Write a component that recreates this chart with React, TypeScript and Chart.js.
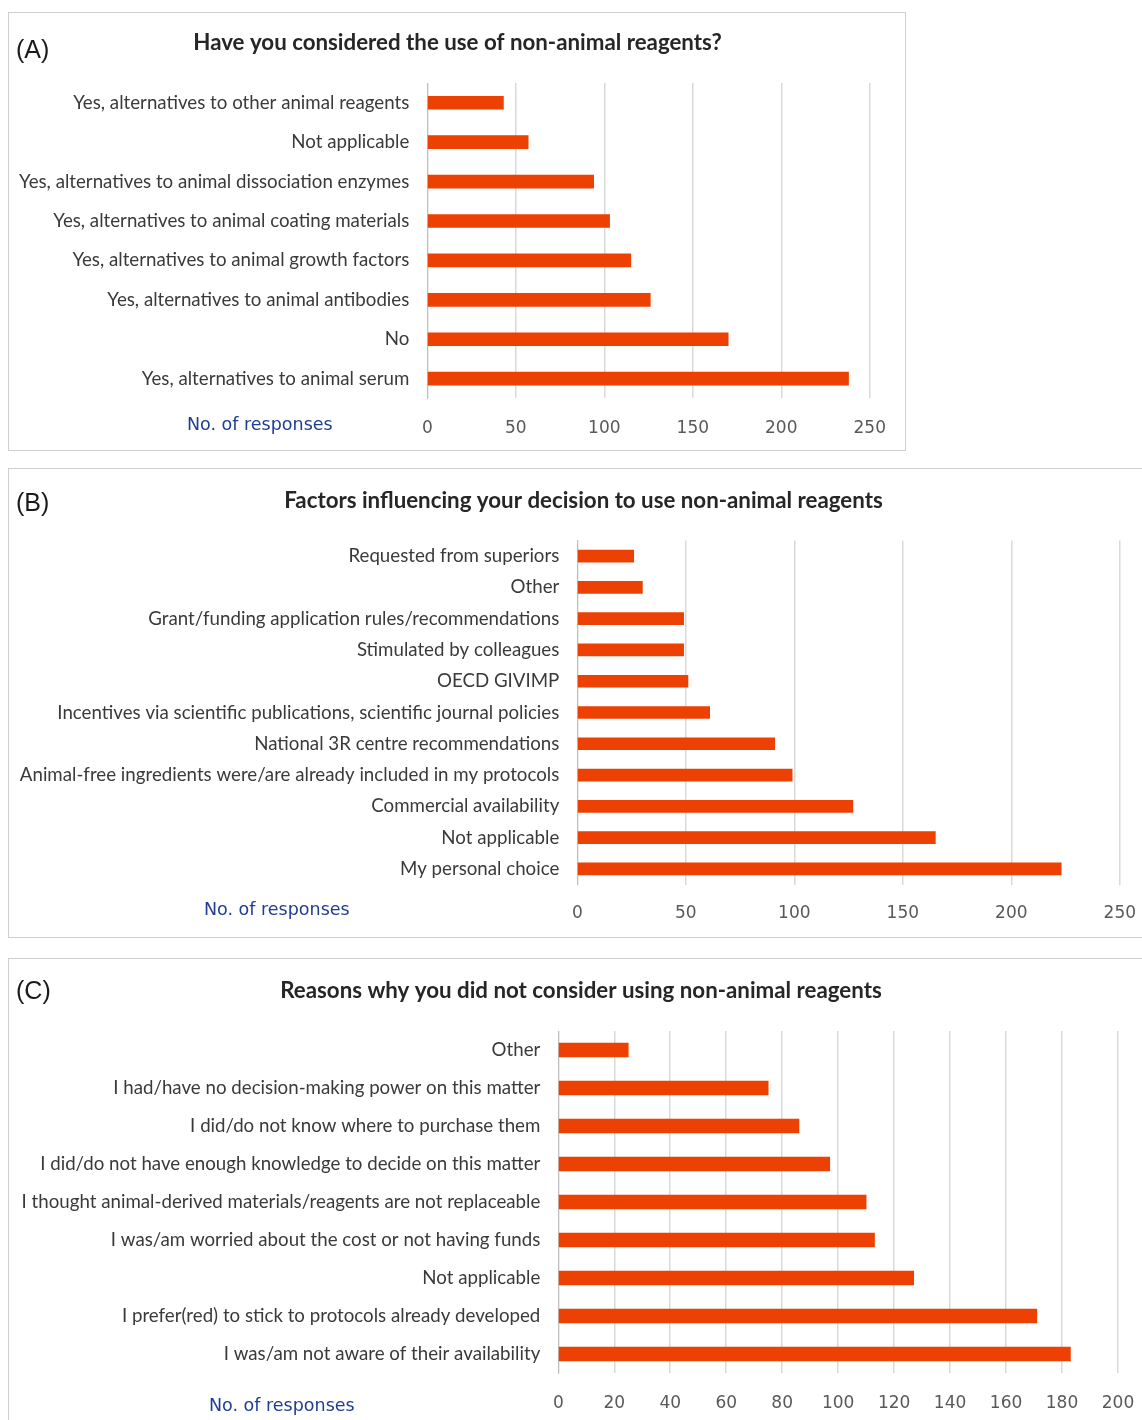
import React, { useEffect, useRef } from "react";
import { Chart, registerables } from "chart.js";

Chart.register(...registerables);

// ---------- Data ----------
const categoriesA = [
  "Yes, alternatives to other animal reagents",
  "Not applicable",
  "Yes, alternatives to animal dissociation enzymes",
  "Yes, alternatives to animal coating materials",
  "Yes, alternatives to animal growth factors",
  "Yes, alternatives to animal antibodies",
  "No",
  "Yes, alternatives to animal serum",
];
const valuesA = [43, 57, 94, 103, 115, 126, 170, 238];

const categoriesB = [
  "Requested from superiors",
  "Other",
  "Grant/funding application rules/recommendations",
  "Stimulated by colleagues",
  "OECD GIVIMP",
  "Incentives via scientific publications, scientific journal policies",
  "National 3R centre recommendations",
  "Animal-free ingredients were/are already included in my protocols",
  "Commercial availability",
  "Not applicable",
  "My personal choice",
];
const valuesB = [26, 30, 49, 49, 51, 61, 91, 99, 127, 165, 223];

const categoriesC = [
  "Other",
  "I had/have no decision-making power on this matter",
  "I did/do not know where to purchase them",
  "I did/do not have enough knowledge to decide on this matter",
  "I thought animal-derived materials/reagents are not replaceable",
  "I was/am worried about the cost or not having funds",
  "Not applicable",
  "I prefer(red) to stick to protocols already developed",
  "I was/am not aware of their availability",
];
const valuesC = [25, 75, 86, 97, 110, 113, 127, 171, 183];

const axisMaxA = 250;
const axisStepA = 50;
const axisMaxB = 250;
const axisStepB = 50;
const axisMaxC = 200;
const axisStepC = 20;

const titleA = "Have you considered the use of non-animal reagents?";
const titleB = "Factors influencing your decision to use non-animal reagents";
const titleC = "Reasons why you did not consider using non-animal reagents";
const axisName = "No. of responses";

const BAR_COLOR = "#ec4102";

// ---------- Text plugin ----------
const panelTextPlugin = {
  id: "panelText",
  afterDraw(chart: any, _args: any, opts: any) {
    const ctx = chart.ctx;
    ctx.save();
    ctx.textBaseline = "middle";
    ctx.textAlign = "left";
    ctx.fillStyle = "#1a1a1a";
    ctx.font = '25px "Liberation Sans", Arial, sans-serif';
    ctx.fillText(opts.letter, opts.letterX, opts.letterY);

    ctx.textAlign = "center";
    ctx.fillStyle = "#262626";
    ctx.font = 'bold 22.3px Lato, "Open Sans", sans-serif';
    ctx.fillText(opts.title, opts.titleX, opts.titleY);

    ctx.textAlign = "left";
    ctx.fillStyle = "#1f3e93";
    ctx.font = '17.5px "DejaVu Sans", Verdana, sans-serif';
    ctx.fillText(opts.name, opts.nameX, opts.nameY);
    ctx.restore();
  },
};

type PanelProps = {
  left: number;
  top: number;
  width: number;
  height: number;
  boxWidth: number;
  boxHeight: number;
  categories: string[];
  values: number[];
  max: number;
  step: number;
  barThickness: number;
  area: { left: number; right: number; top: number; bottom: number };
  letter: string;
  letterPos: [number, number];
  title: string;
  titlePos: [number, number];
  namePos: [number, number];
  yPad: number;
  xPad: number;
};

function Panel(p: PanelProps) {
  const ref = useRef<HTMLCanvasElement | null>(null);
  useEffect(() => {
    if (!ref.current) return;
    const chart = new Chart(ref.current, {
      type: "bar",
      data: {
        labels: p.categories,
        datasets: [
          {
            data: p.values,
            backgroundColor: BAR_COLOR,
            borderWidth: 0,
            barThickness: p.barThickness,
          },
        ],
      },
      options: {
        indexAxis: "y",
        animation: false,
        responsive: true,
        maintainAspectRatio: false,
        layout: {
          padding: { left: 0, top: p.area.top, right: p.width - p.area.right, bottom: 0 },
        },
        plugins: {
          legend: { display: false },
          tooltip: { enabled: false },
          title: { display: false },
          panelText: {
            letter: p.letter,
            letterX: p.letterPos[0],
            letterY: p.letterPos[1],
            title: p.title,
            titleX: p.titlePos[0],
            titleY: p.titlePos[1],
            name: axisName,
            nameX: p.namePos[0],
            nameY: p.namePos[1],
          },
        } as any,
        scales: {
          x: {
            type: "linear",
            min: 0,
            max: p.max,
            afterFit: (s: any) => {
              s.height = p.height - p.area.bottom;
            },
            ticks: {
              stepSize: p.step,
              color: "#595959",
              padding: p.xPad,
              font: { family: '"DejaVu Sans", Verdana, sans-serif', size: 17 },
            },
            grid: { color: "#d9d9d9", lineWidth: 1.5, drawTicks: false },
            border: { display: false },
          },
          y: {
            afterFit: (s: any) => {
              s.width = p.area.left;
            },
            ticks: {
              color: "#3a3a3a",
              padding: p.yPad,
              autoSkip: false,
              font: { family: 'Lato, "Open Sans", sans-serif', size: 18.7 },
            },
            grid: { display: false, drawTicks: false },
            border: { display: true, color: "#bfbfbf", width: 1 },
          },
        },
      },
      plugins: [panelTextPlugin],
    });
    return () => chart.destroy();
  }, []);

  return (
    <>
      <div
        style={{
          position: "absolute",
          left: p.left,
          top: p.top,
          width: p.boxWidth,
          height: p.boxHeight,
          boxSizing: "border-box",
          border: "1.5px solid #cfcfcf",
          background: "#fff",
        }}
      />
      <div
        style={{
          position: "absolute",
          left: p.left,
          top: p.top,
          width: p.width,
          height: p.height,
        }}
      >
        <canvas ref={ref} />
      </div>
    </>
  );
}

export default function App() {
  return (
    <div
      style={{
        position: "absolute",
        left: 0,
        top: 0,
        width: 1142,
        height: 1420,
        overflow: "hidden",
        background: "#fff",
      }}
    >
      <Panel
        left={8}
        top={12}
        width={898}
        height={439}
        boxWidth={898}
        boxHeight={439}
        categories={categoriesA}
        values={valuesA}
        max={axisMaxA}
        step={axisStepA}
        barThickness={13}
        area={{ left: 419.3, right: 862, top: 71, bottom: 386.4 }}
        letter="(A)"
        letterPos={[8, 39]}
        title={titleA}
        titlePos={[449.5, 31]}
        namePos={[179, 413]}
        yPad={18}
        xPad={20}
      />
      <Panel
        left={8}
        top={468}
        width={1152}
        height={470}
        boxWidth={1152}
        boxHeight={470}
        categories={categoriesB}
        values={valuesB}
        max={axisMaxB}
        step={axisStepB}
        barThickness={12}
        area={{ left: 569.3, right: 1111.8, top: 72.4, bottom: 416.6 }}
        letter="(B)"
        letterPos={[8, 36]}
        title={titleB}
        titlePos={[575.5, 33]}
        namePos={[196, 442]}
        yPad={18}
        xPad={19}
      />
      <Panel
        left={8}
        top={958}
        width={1152}
        height={470}
        boxWidth={1152}
        boxHeight={480}
        categories={categoriesC}
        values={valuesC}
        max={axisMaxC}
        step={axisStepC}
        barThickness={14}
        area={{ left: 550.3, right: 1110, top: 73, bottom: 415 }}
        letter="(C)"
        letterPos={[8, 34]}
        title={titleC}
        titlePos={[573, 33]}
        namePos={[201, 448]}
        yPad={18}
        xPad={20}
      />
    </div>
  );
}
